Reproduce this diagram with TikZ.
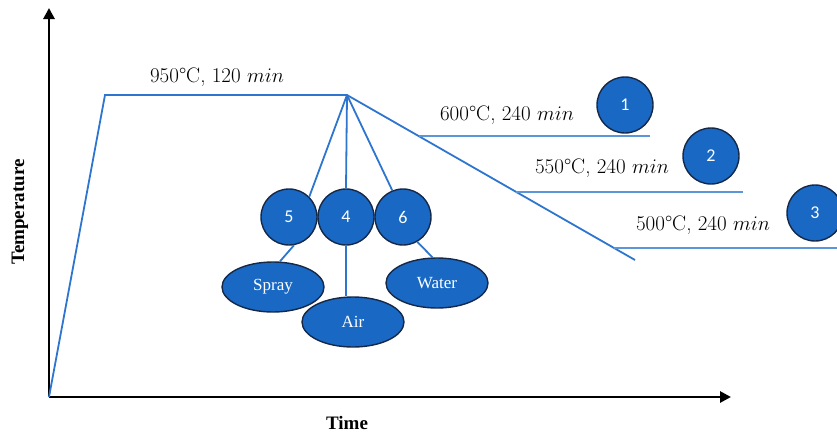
\documentclass[tikz,border=0pt]{standalone}
\usepackage{fontspec}
\usetikzlibrary{arrows.meta,shapes.geometric}
\newfontfamily\numfont{Carlito}
\newfontfamily\timesfont{Liberation Serif}
\definecolor{bfill}{RGB}{24,104,196}
\definecolor{bedge}{RGB}{22,40,72}
\definecolor{pline}{RGB}{46,117,208}
\definecolor{hline}{RGB}{91,150,218}
\tikzset{
  numcirc/.style={circle,fill=bfill,draw=bedge,line width=1.4pt,minimum size=56pt,inner sep=0pt,text=white,font=\numfont\fontsize{18}{21}\selectfont},
  medium/.style={ellipse,fill=bfill,draw=bedge,line width=1.4pt,minimum width=102pt,minimum height=50pt,inner sep=0pt,text=white,font=\timesfont\fontsize{17}{20}\selectfont},
  profile/.style={pline,line width=1.8pt},
  hold/.style={hline,line width=1.4pt},
  axis/.style={black,line width=2.8pt,-{Triangle[length=11pt,width=11pt]}},
  tlabel/.style={inner sep=0pt,font=\fontsize{21}{25}\selectfont},
  alabel/.style={inner sep=0pt,font=\timesfont\bfseries\fontsize{19}{22}\selectfont},
}
\begin{document}
\begin{tikzpicture}[x=1pt,y=-1pt]
\useasboundingbox (0,0) rectangle (837,434);
% axes
\coordinate (O) at (49,397);
\coordinate (ytip) at (49,8);
\coordinate (xtip) at (731,397);
\draw[axis] (O) -- (ytip);
\draw[axis] (O) -- (xtip);
\node[alabel,rotate=90] (temp) at (20,212) {Temperature};
\node[alabel] (time) at (347,423) {Time};
% profile
\coordinate (heat) at (105,95);
\coordinate (apex) at (347,95);
\coordinate (cool) at (635,260);
\draw[profile,line join=miter] (O) -- (heat) -- (apex) -- (cool);
% holds
\coordinate (h1a) at (418.6,136);
\coordinate (h1b) at (650,136);
\coordinate (h2a) at (516.3,192);
\coordinate (h2b) at (743,192);
\coordinate (h3a) at (614.1,248);
\coordinate (h3b) at (837,248);
\draw[hold] (h1a) -- (h1b);
\draw[hold] (h2a) -- (h2b);
\draw[hold] (h3a) -- (h3b);
% labels
\node[tlabel] (l950) at (217,77) {950°C, 120 $min$};
\node[tlabel] (l600) at (507,115) {600°C, 240 $min$};
\node[tlabel] (l550) at (602,168) {550°C, 240 $min$};
\node[tlabel] (l500) at (703,225) {500°C, 240 $min$};
% circles
\node[numcirc] (c1) at (625,105) {1};
\node[numcirc] (c2) at (711,156) {2};
\node[numcirc] (c3) at (815,213) {3};
\node[numcirc] (c5) at (289,217) {5};
\node[numcirc] (c4) at (346,217) {4};
\node[numcirc] (c6) at (403,217) {6};
% media
\node[medium] (spray) at (273,287) {Spray};
\node[medium] (air) at (353,322) {Air};
\node[medium] (water) at (437,283) {Water};
% connectors
\draw[profile] (apex) -- (c5.45);
\draw[profile] (apex) -- (c4.north);
\draw[profile] (apex) -- (c6.112);
\draw[profile] (c5.-80) -- (spray.75);
\draw[profile] (c4.south) -- (air.north -| c4.south);
\draw[profile] (c6.-60) -- (water.100);
\end{tikzpicture}
\end{document}
